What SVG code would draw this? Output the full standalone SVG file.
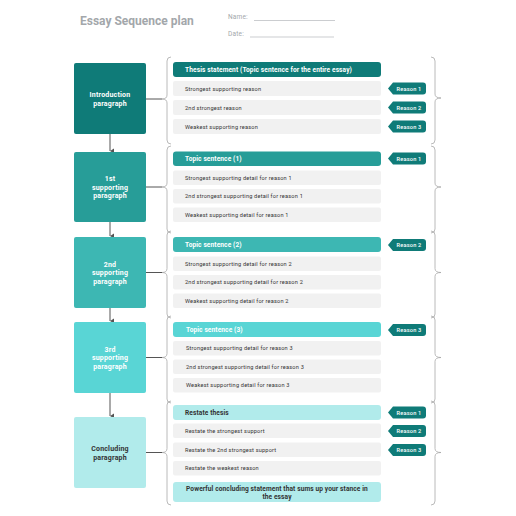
<svg xmlns="http://www.w3.org/2000/svg" width="516" height="516" viewBox="0 0 516 516">
<style>
text{font-family:Roboto,"Liberation Sans",sans-serif}
.title{font-size:12px;font-weight:bold;fill:#a3a7ab}
.hdr{font-size:6.5px;fill:#a3a7ab;letter-spacing:0.2px}
.ul{stroke:#b5b8bb;stroke-width:0.7}
.bx{font-size:7px;font-weight:bold;fill:#fff;text-anchor:middle;letter-spacing:0.2px}
.bxd{font-size:7px;font-weight:bold;fill:#333;text-anchor:middle;letter-spacing:0.2px}
.row{fill:#f1f1f1}
.rt{font-size:5.6px;fill:#333;letter-spacing:0.2px}
.bt{font-size:6.6px;font-weight:bold;fill:#fff;letter-spacing:0.1px}
.btd{font-size:6.6px;font-weight:bold;fill:#333;letter-spacing:0.1px}
.tag{fill:#0f7b78}
.tt{font-size:5.6px;font-weight:500;fill:#fff;text-anchor:middle;letter-spacing:0.2px}
.conn{stroke:#555;stroke-width:1;fill:none}
.brace{stroke:#a8a8a8;stroke-width:0.8;fill:none}
</style>
<defs>
<marker id="ah" markerWidth="6" markerHeight="6" refX="3" refY="5" orient="auto-start-reverse" markerUnits="userSpaceOnUse" viewBox="0 0 6 6">
<path d="M0.5,1 L3,5 L5.5,1 Z" fill="#555"/>
</marker>
</defs>
<rect width="516" height="516" fill="#fff"/>
<g id="header">
<text class="title" x="80" y="25">Essay Sequence plan</text>
<text class="hdr" x="228" y="19">Name:</text>
<line class="ul" x1="254" y1="20.5" x2="335" y2="20.5"/>
<text class="hdr" x="228" y="36">Date:</text>
<line class="ul" x1="250" y1="37" x2="334" y2="37"/>
</g>
<g id="connectors">
<line class="conn" x1="110" y1="134" x2="110" y2="151" marker-end="url(#ah)"/>
<line class="conn" x1="110" y1="222" x2="110" y2="236" marker-end="url(#ah)"/>
<line class="conn" x1="110" y1="308" x2="110" y2="321" marker-end="url(#ah)"/>
<line class="conn" x1="110" y1="393" x2="110" y2="416" marker-end="url(#ah)"/>
<line class="conn" x1="146" y1="99" x2="162" y2="99"/>
<line class="conn" x1="146" y1="187" x2="162" y2="187"/>
<line class="conn" x1="146" y1="272.5" x2="162" y2="272.5"/>
<line class="conn" x1="146" y1="357.5" x2="162" y2="357.5"/>
<line class="conn" x1="146" y1="452.5" x2="162" y2="452.5"/>
<path class="brace" d="M171,57 Q167,57 167,61 L167,95 Q167,99 162,99 Q167,99 167,103 L167,140 Q167,144 171,144"/>
<path class="brace" d="M171,146 Q167,146 167,150 L167,183 Q167,187 162,187 Q167,187 167,191 L167,229 Q167,233 171,233"/>
<path class="brace" d="M171,231 Q167,231 167,235 L167,268.5 Q167,272.5 162,272.5 Q167,272.5 167,276.5 L167,314 Q167,318 171,318"/>
<path class="brace" d="M171,316 Q167,316 167,320 L167,353.5 Q167,357.5 162,357.5 Q167,357.5 167,361.5 L167,399 Q167,403 171,403"/>
<path class="brace" d="M171,401 Q167,401 167,405 L167,448.5 Q167,452.5 162,452.5 Q167,452.5 167,456.5 L167,501 Q167,505 171,505"/>
<path class="brace" d="M431,57 Q435,57 435,61 L435,94 Q435,98 441,98 Q435,98 435,102 L435,140 Q435,144 431,144"/>
<path class="brace" d="M431,146 Q435,146 435,150 L435,183 Q435,187 441,187 Q435,187 435,191 L435,229 Q435,233 431,233"/>
<path class="brace" d="M431,231 Q435,231 435,235 L435,268.5 Q435,272.5 441,272.5 Q435,272.5 435,276.5 L435,314 Q435,318 431,318"/>
<path class="brace" d="M431,316 Q435,316 435,320 L435,353.5 Q435,357.5 441,357.5 Q435,357.5 435,361.5 L435,399 Q435,403 431,403"/>
<path class="brace" d="M431,401 Q435,401 435,405 L435,448.5 Q435,452.5 441,452.5 Q435,452.5 435,456.5 L435,501 Q435,505 431,505"/>
</g>
<g id="intro">
<rect x="74" y="63" width="72" height="71" rx="2" fill="#0f7b78"/>
<text class="bx" x="110" y="97">Introduction</text>
<text class="bx" x="110" y="106">paragraph</text>
</g>
<g id="intro-rows">
<rect x="173" y="62" width="208" height="15" rx="3" fill="#0f7b78"/>
<text class="bt" x="185" y="72">Thesis statement (Topic sentence for the entire essay)</text>
<rect class="row" x="173" y="81" width="208" height="15" rx="2"/>
<text class="rt" x="185" y="90.5">Strongest supporting reason</text>
<rect class="row" x="173" y="100" width="208" height="15" rx="2"/>
<text class="rt" x="185" y="109.5">2nd strongest reason</text>
<rect class="row" x="173" y="119" width="208" height="15" rx="2"/>
<text class="rt" x="185" y="128.5">Weakest supporting reason</text>
</g>
<g id="tags-intro">
<path class="tag" d="M388,88.5 L393,82.5 L423,82.5 Q426,82.5 426,85.5 L426,91.5 Q426,94.5 423,94.5 L393,94.5 Z"/>
<text class="tt" x="409" y="90.5">Reason 1</text>
<path class="tag" d="M388,107.5 L393,101.5 L423,101.5 Q426,101.5 426,104.5 L426,110.5 Q426,113.5 423,113.5 L393,113.5 Z"/>
<text class="tt" x="409" y="109.5">Reason 2</text>
<path class="tag" d="M388,126.5 L393,120.5 L423,120.5 Q426,120.5 426,123.5 L426,129.5 Q426,132.5 423,132.5 L393,132.5 Z"/>
<text class="tt" x="409" y="128.5">Reason 3</text>
</g>
<g id="sup1">
<rect x="74" y="152" width="72" height="70" rx="2" fill="#279d98"/>
<text class="bx" x="110" y="181">1st</text>
<text class="bx" x="110" y="189.5">supporting</text>
<text class="bx" x="110" y="198">paragraph</text>
</g>
<g id="sup1-rows">
<rect x="173" y="151.5" width="208" height="14.5" rx="3" fill="#279d98"/>
<text class="bt" x="185" y="161">Topic sentence (1)</text>
<rect class="row" x="173" y="170.5" width="208" height="14.5" rx="2"/>
<text class="rt" x="185" y="179.5">Strongest supporting detail for reason 1</text>
<rect class="row" x="173" y="189" width="208" height="14.5" rx="2"/>
<text class="rt" x="185" y="198">2nd strongest supporting detail for reason 1</text>
<rect class="row" x="173" y="207.5" width="208" height="14.5" rx="2"/>
<text class="rt" x="185" y="216.5">Weakest supporting detail for reason 1</text>
<path class="tag" d="M388,158.5 L393,152.5 L423,152.5 Q426,152.5 426,155.5 L426,161.5 Q426,164.5 423,164.5 L393,164.5 Z"/>
<text class="tt" x="409" y="160.5">Reason 1</text>
</g>
<g id="sup2">
<rect x="74" y="237" width="72" height="71" rx="2" fill="#3db7b3"/>
<text class="bx" x="110" y="266.5">2nd</text>
<text class="bx" x="110" y="275">supporting</text>
<text class="bx" x="110" y="283.5">paragraph</text>
</g>
<g id="sup2-rows">
<rect x="173" y="237" width="208" height="15" rx="3" fill="#3db7b3"/>
<text class="bt" x="185" y="247">Topic sentence (2)</text>
<rect class="row" x="173" y="256.5" width="208" height="14.5" rx="2"/>
<text class="rt" x="185" y="265.5">Strongest supporting detail for reason 2</text>
<rect class="row" x="173" y="275" width="208" height="14.5" rx="2"/>
<text class="rt" x="185" y="284">2nd strongest supporting detail for reason 2</text>
<rect class="row" x="173" y="293.5" width="208" height="14.5" rx="2"/>
<text class="rt" x="185" y="302.5">Weakest supporting detail for reason 2</text>
<path class="tag" d="M388,245 L393,239 L423,239 Q426,239 426,242 L426,248 Q426,251 423,251 L393,251 Z"/>
<text class="tt" x="409" y="247">Reason 2</text>
</g>
<g id="sup3">
<rect x="74" y="322" width="72" height="71" rx="2" fill="#59d5d5"/>
<text class="bx" x="110" y="351.5">3rd</text>
<text class="bx" x="110" y="360">supporting</text>
<text class="bx" x="110" y="368.5">paragraph</text>
</g>
<g id="sup3-rows">
<rect x="173" y="322" width="208" height="15" rx="3" fill="#59d5d5"/>
<text class="bt" x="186" y="332">Topic sentence (3)</text>
<rect class="row" x="173" y="341" width="208" height="14.5" rx="2"/>
<text class="rt" x="186" y="350">Strongest supporting detail for reason 3</text>
<rect class="row" x="173" y="359.5" width="208" height="14.5" rx="2"/>
<text class="rt" x="186" y="368.5">2nd strongest supporting detail for reason 3</text>
<rect class="row" x="173" y="378" width="208" height="14.5" rx="2"/>
<text class="rt" x="186" y="387">Weakest supporting detail for reason 3</text>
<path class="tag" d="M388,330 L393,324 L423,324 Q426,324 426,327 L426,333 Q426,336 423,336 L393,336 Z"/>
<text class="tt" x="409" y="332">Reason 3</text>
</g>
<g id="concl">
<rect x="74" y="417" width="72" height="71" rx="2" fill="#b1ebeb"/>
<text class="bxd" x="110" y="451">Concluding</text>
<text class="bxd" x="110" y="459.5">paragraph</text>
</g>
<g id="concl-rows">
<rect x="173" y="405" width="208" height="15" rx="3" fill="#b1ebeb"/>
<text class="btd" x="185" y="415">Restate thesis</text>
<rect class="row" x="173" y="423.5" width="208" height="14.5" rx="2"/>
<text class="rt" x="185" y="432.5">Restate the strongest support</text>
<rect class="row" x="173" y="442.5" width="208" height="14.5" rx="2"/>
<text class="rt" x="185" y="451.5">Restate the 2nd strongest support</text>
<rect class="row" x="173" y="461" width="208" height="14.5" rx="2"/>
<text class="rt" x="185" y="470">Restate the weakest reason</text>
<rect x="173" y="482" width="208" height="20" rx="3" fill="#b1ebeb"/>
<text class="btd" x="277" y="490.5" text-anchor="middle">Powerful concluding statement that sums up your stance  in</text>
<text class="btd" x="277" y="499" text-anchor="middle">the essay</text>
<path class="tag" d="M388,412.5 L393,406.5 L423,406.5 Q426,406.5 426,409.5 L426,415.5 Q426,418.5 423,418.5 L393,418.5 Z"/>
<text class="tt" x="409" y="414.5">Reason 1</text>
<path class="tag" d="M388,431 L393,425 L423,425 Q426,425 426,428 L426,434 Q426,437 423,437 L393,437 Z"/>
<text class="tt" x="409" y="433">Reason 2</text>
<path class="tag" d="M388,450 L393,444 L423,444 Q426,444 426,447 L426,453 Q426,456 423,456 L393,456 Z"/>
<text class="tt" x="409" y="452">Reason 3</text>
</g>
</svg>
